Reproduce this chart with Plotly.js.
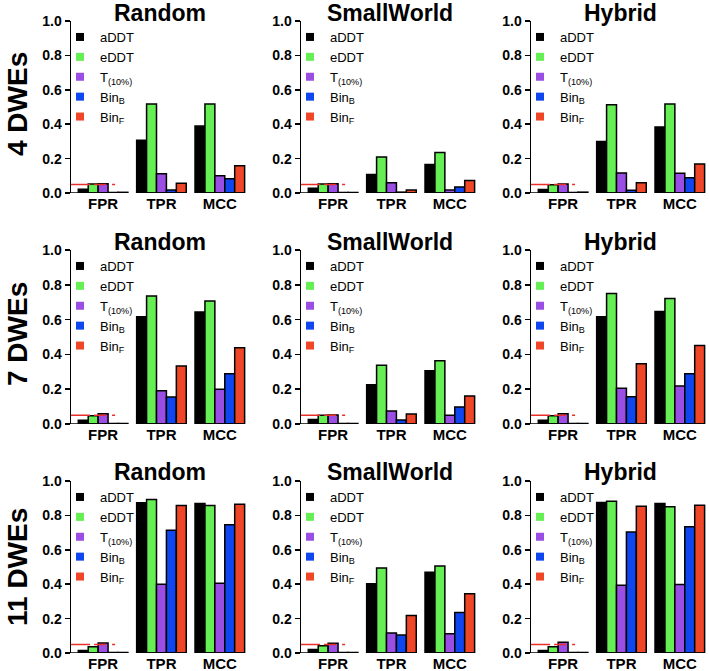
<!DOCTYPE html>
<html><head><meta charset="utf-8">
<script src="https://cdn.plot.ly/plotly-3.0.1.min.js"></script>
<style>html,body{margin:0;padding:0;background:#fff}#chart{width:709px;height:671px}</style>
</head><body><div id="chart"></div>
<script>
const metrics = ['FPR', 'TPR', 'MCC'];
const seriesNames = ['aDDT', 'eDDT', 'T<sub>(10%)</sub>', 'Bin<sub>B</sub>', 'Bin<sub>F</sub>'];
const seriesColors = ['#000000', '#66EE55', '#9A4EE3', '#1046F0', '#F04628'];
const networks = ['Random', 'SmallWorld', 'Hybrid'];
const dweLabels = ['4 DWEs', '7 DWEs', '11 DWEs'];
const fprThreshold = 0.05;

// each panel: one row per series (aDDT, eDDT, T(10%), BinB, BinF); columns = FPR, TPR, MCC
const random4 = [[0.022, 0.306, 0.389], [0.052, 0.518, 0.518], [0.054, 0.112, 0.100], [0.003, 0.017, 0.083], [0.004, 0.056, 0.159]];
const small4  = [[0.027, 0.108, 0.166], [0.052, 0.209, 0.236], [0.054, 0.060, 0.017], [0.003, 0.005, 0.035], [0.003, 0.017, 0.073]];
const hybrid4 = [[0.021, 0.300, 0.384], [0.048, 0.513, 0.517], [0.053, 0.117, 0.115], [0.003, 0.016, 0.089], [0.005, 0.060, 0.169]];
const random7 = [[0.021, 0.616, 0.644], [0.048, 0.736, 0.707], [0.059, 0.191, 0.200], [0.003, 0.155, 0.289], [0.003, 0.333, 0.438]];
const small7  = [[0.026, 0.226, 0.306], [0.050, 0.337, 0.363], [0.052, 0.075, 0.050], [0.003, 0.023, 0.098], [0.003, 0.057, 0.161]];
const hybrid7 = [[0.021, 0.616, 0.646], [0.048, 0.750, 0.721], [0.059, 0.205, 0.218], [0.003, 0.157, 0.289], [0.003, 0.346, 0.451]];
const random11 = [[0.015, 0.873, 0.869], [0.037, 0.892, 0.857], [0.058, 0.400, 0.405], [0.003, 0.714, 0.745], [0.003, 0.857, 0.865]];
const small11  = [[0.021, 0.403, 0.469], [0.042, 0.494, 0.506], [0.056, 0.116, 0.112], [0.003, 0.104, 0.236], [0.003, 0.218, 0.344]];
const hybrid11 = [[0.015, 0.875, 0.869], [0.037, 0.882, 0.851], [0.062, 0.394, 0.398], [0.003, 0.703, 0.734], [0.003, 0.853, 0.859]];

const panels = [[random4, small4, hybrid4], [random7, small7, hybrid7], [random11, small11, hybrid11]];

const W = 709, H = 671;
const rowTop = [21, 250, 481], rowBot = [193, 424, 653];
const colLeft = [71, 301, 531], colRight = [249, 479, 709];
const titleY = [13, 242, 472];
const rowLabelY = [104, 334, 567];
const FONT = 'Liberation Sans, Arial, sans-serif';
const px = v => v / W, py = v => 1 - v / H;

const traces = [];
const layout = {
  width: W, height: H,
  margin: {l: 0, r: 0, t: 0, b: 0},
  paper_bgcolor: '#ffffff', plot_bgcolor: 'rgba(0,0,0,0)',
  barmode: 'group', bargap: 0.15, bargroupgap: 0,
  showlegend: true,
  font: {family: FONT, color: '#000'},
  shapes: [], annotations: []
};

for (let r = 0; r < 3; r++) {
  for (let c = 0; c < 3; c++) {
    const idx = r * 3 + c + 1;
    const xa = idx === 1 ? 'x' : 'x' + idx;
    const ya = idx === 1 ? 'y' : 'y' + idx;
    const lg = idx === 1 ? 'legend' : 'legend' + idx;
    const data = panels[r][c];
    for (let s = 0; s < 5; s++) {
      traces.push({
        type: 'bar', x: metrics, y: data[s], name: seriesNames[s],
        xaxis: xa, yaxis: ya, showlegend: false,
        marker: {color: seriesColors[s], line: {color: '#000', width: 1.5}}
      });
    }
    for (let s = 0; s < 5; s++) {
      traces.push({
        type: 'scatter', mode: 'markers', x: [null], y: [null], name: seriesNames[s],
        xaxis: xa, yaxis: ya, legend: lg, showlegend: true,
        marker: {symbol: 'square', size: 8, color: seriesColors[s]}
      });
    }
    const xkey = idx === 1 ? 'xaxis' : 'xaxis' + idx;
    const ykey = idx === 1 ? 'yaxis' : 'yaxis' + idx;
    layout[xkey] = {
      domain: [px(colLeft[c]), px(colRight[c])], anchor: ya,
      type: 'category', categoryarray: metrics, range: [-0.55, 2.5],
      showline: false, showgrid: false, zeroline: false, ticks: '',
      tickfont: {family: FONT, size: 15, weight: 'bold', color: '#000'}, fixedrange: true
    };
    layout[ykey] = {
      domain: [py(rowBot[r]), py(rowTop[r])], anchor: xa,
      range: [0, 1], dtick: 0.2, tick0: 0, tickformat: '.1f',
      showline: true, linewidth: 1.5, linecolor: '#000',
      ticks: 'outside', ticklen: 5, tickwidth: 1.5, tickcolor: '#000',
      showgrid: false, zeroline: false,
      tickfont: {family: FONT, size: 14, weight: 'bold', color: '#000'}, fixedrange: true
    };
    layout[lg] = {
      x: px(colLeft[c] - 11), y: py(rowTop[r] + 1), xanchor: 'left', yanchor: 'top',
      bgcolor: 'rgba(0,0,0,0)', borderwidth: 0,
      font: {family: FONT, size: 13, color: '#000'}
    };
    // segmented baseline under each group
    for (let g = 0; g < 3; g++) {
      layout.shapes.push({
        type: 'line', xref: xa, yref: ya,
        x0: g === 0 ? -0.55 : g - 0.425, x1: g + 0.425, y0: 0, y1: 0,
        line: {color: '#000', width: 1.5}
      });
    }
    // FPR threshold line
    layout.shapes.push({
      type: 'line', xref: xa, yref: ya, x0: -0.6, x1: 0.28, y0: fprThreshold, y1: fprThreshold,
      line: {color: '#E8302A', width: 1.5, dash: '22px,4px,12px,6px,3px'}, layer: 'above'
    });
    layout.annotations.push({
      text: networks[c], xref: 'paper', yref: 'paper',
      x: px((colLeft[c] + colRight[c]) / 2), y: py(titleY[r]),
      xanchor: 'center', yanchor: 'middle', showarrow: false,
      font: {family: FONT, size: 23, weight: 'bold', color: '#000'}
    });
  }
  layout.annotations.push({
    text: dweLabels[r], xref: 'paper', yref: 'paper',
    x: px(17), y: py(rowLabelY[r]), xanchor: 'center', yanchor: 'middle',
    textangle: -90, showarrow: false,
    font: {family: 'Liberation Sans Narrow, ' + FONT, size: 28, weight: 'bold', color: '#000'}
  });
}

Plotly.newPlot('chart', traces, layout, {displayModeBar: false, staticPlot: true});
</script>
</body></html>
